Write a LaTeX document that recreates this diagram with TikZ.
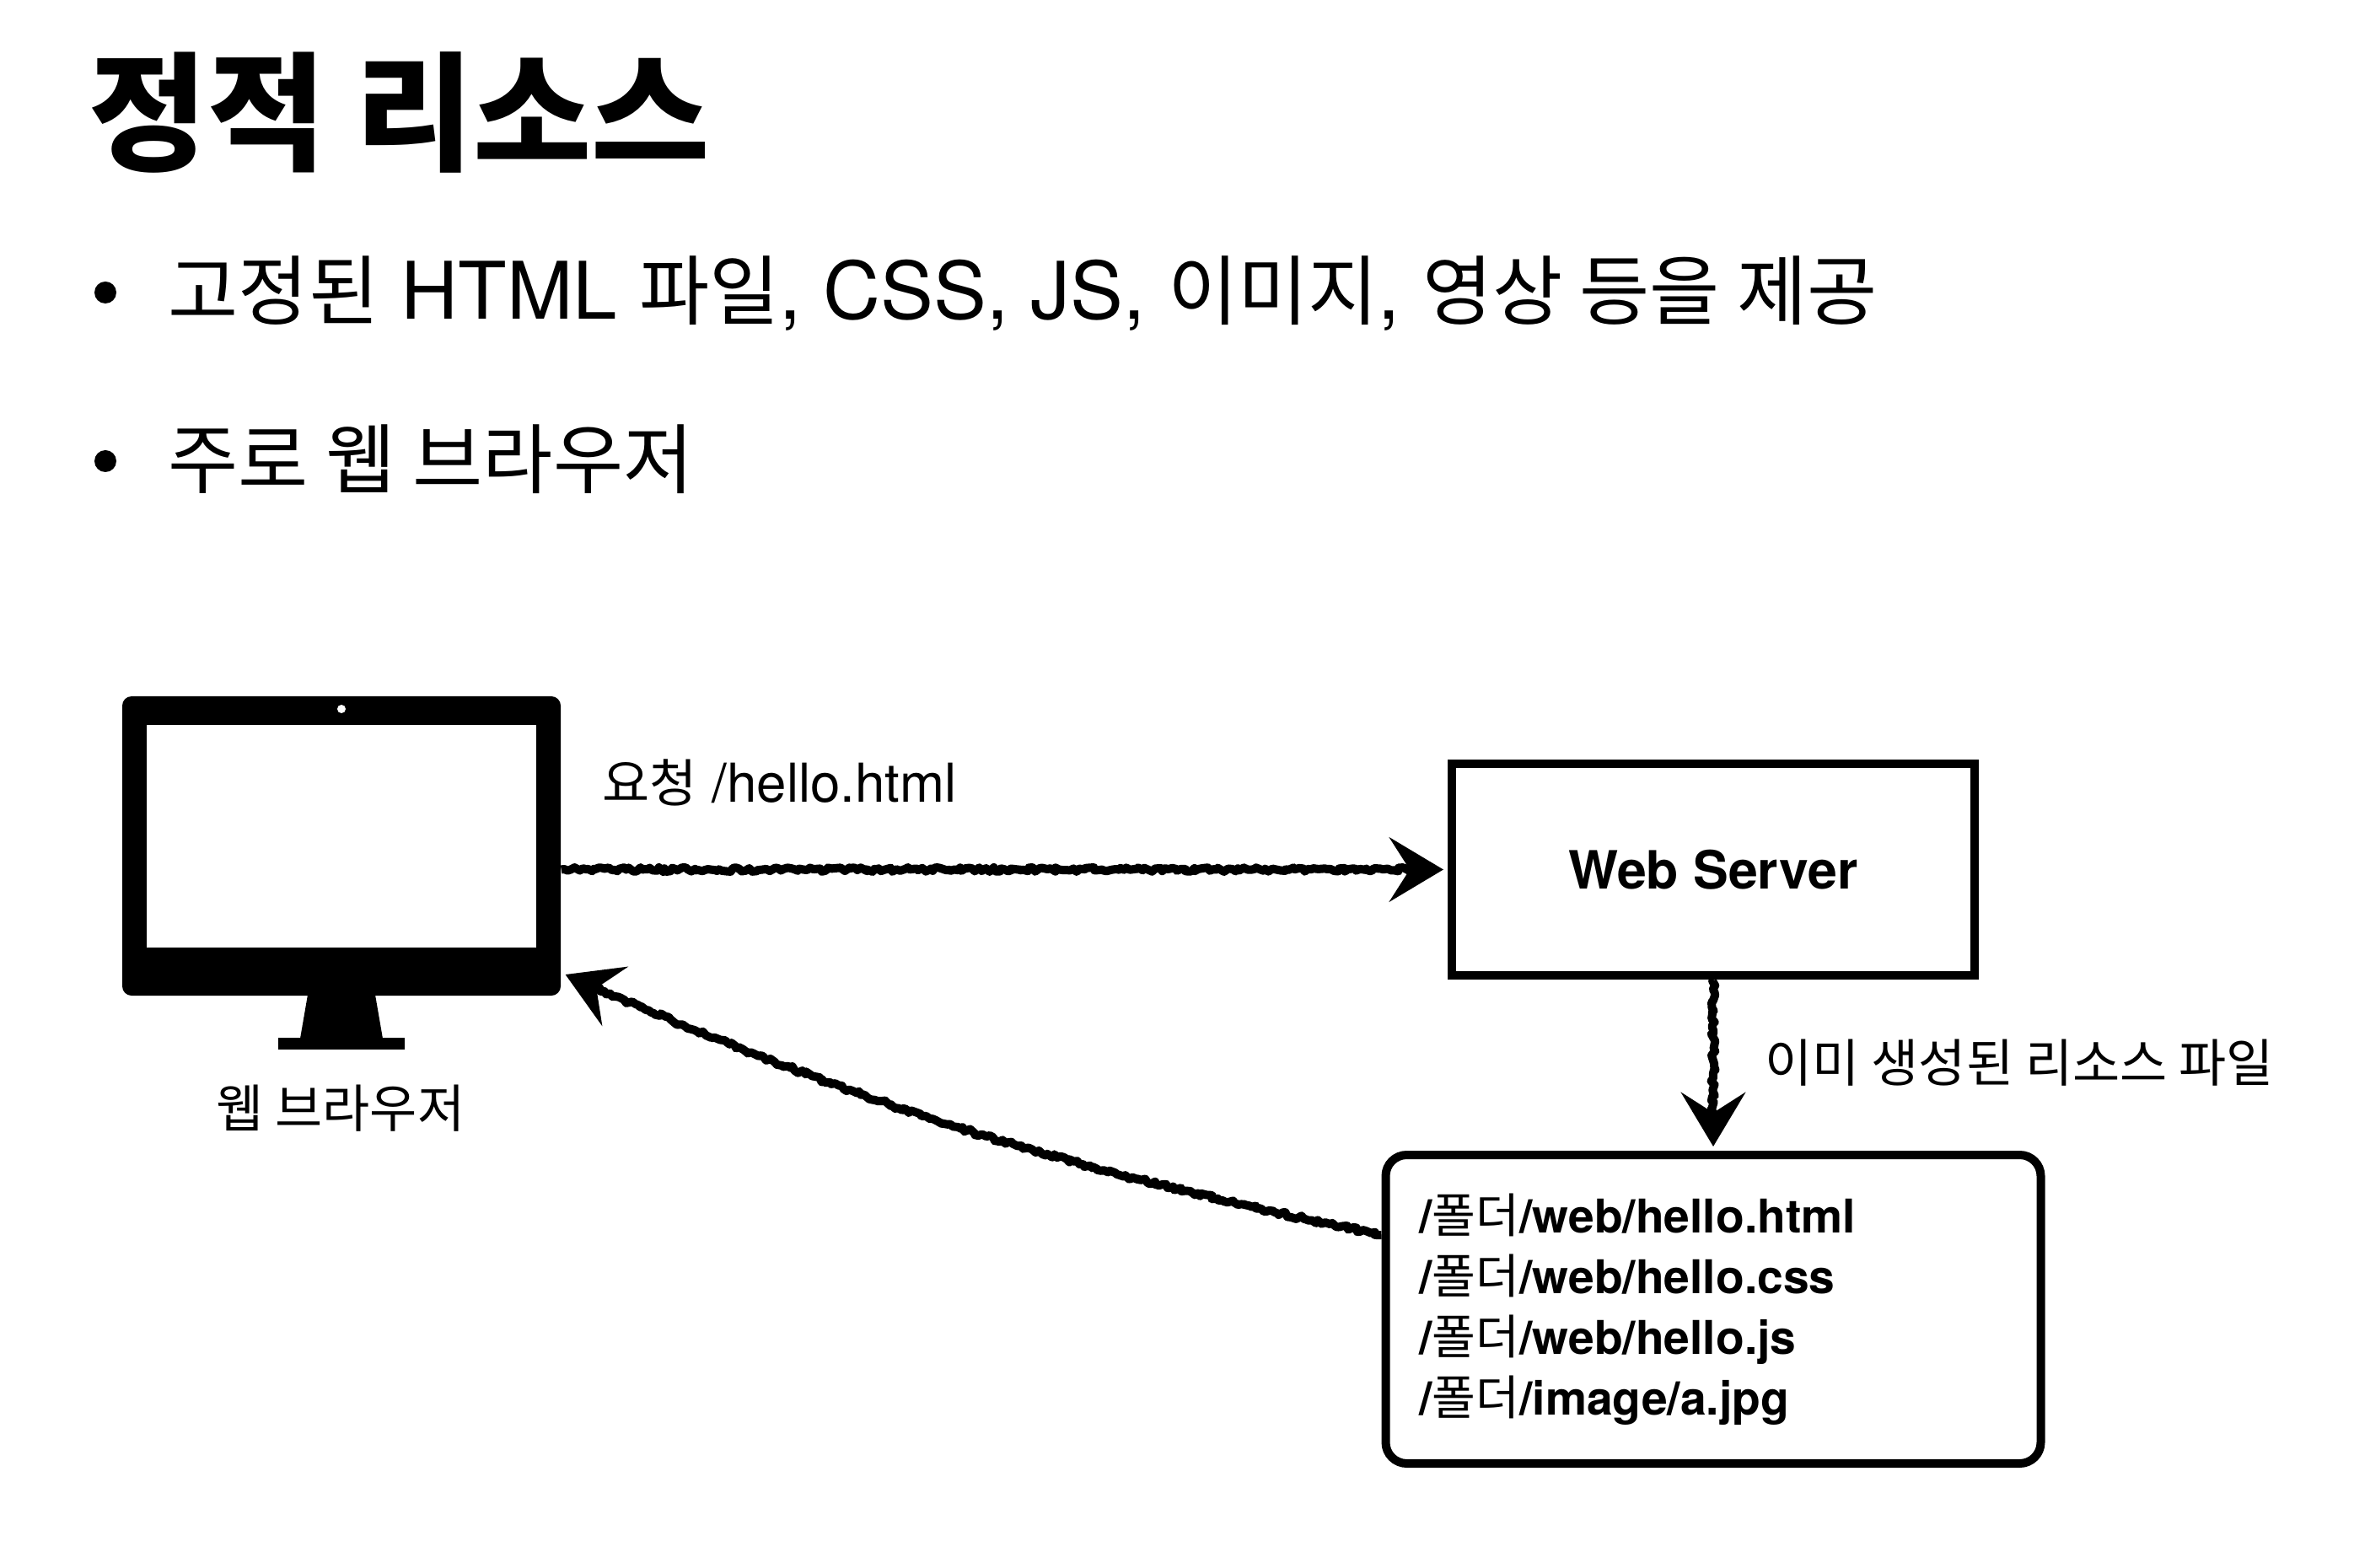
\documentclass[tikz,border=0pt]{standalone}
\usepackage{fontspec}
\setmainfont{TeX Gyre Heros}
\newfontfamily\kr[Scale=0.96]{Noto Sans CJK KR}
\newfontfamily\krfile[Scale=1.02]{Noto Sans CJK KR}
\newcommand{\folder}{{\krfile\mdseries 폴더}}
\usetikzlibrary{positioning, arrows.meta, decorations.pathmorphing}

\begin{document}
\begin{tikzpicture}[
  headline/.style={anchor=base west, inner sep=0pt, font=\fontsize{45.2}{54}\selectfont\bfseries},
  bulletdot/.style={circle, fill=black, inner sep=0pt, minimum size=0.26cm},
  item/.style={anchor=base west, inner sep=0pt, font=\fontsize{26.8}{32}\selectfont},
  label/.style={anchor=base west, inner sep=0pt, font=\fontsize{18.1}{22}\selectfont},
  box/.style={draw, line width=0.10cm, align=center, inner sep=0pt},
  sketch/.style={-{Stealth[length=0.64cm, width=0.76cm, inset=0.24cm]}, line width=0.10cm, line join=round, shorten >=0.05cm,
    decorate, decoration={random steps, segment length=0.035cm, amplitude=0.025cm, post length=0.4cm}}
]
\useasboundingbox (0,0) rectangle (27.92,-18.60);
\pgfmathsetseed{7}
\node[headline] (title) at (1.05,-1.91) {\kr 정적 리소스};
\node[bulletdot] (dota) at (1.25,-3.47) {};
\node[bulletdot] (dotb) at (1.25,-5.47) {};
\node[item] (itema) at (1.99,-3.79) {{\kr 고정된} HTML {\kr 파일}, CSS, JS, {\kr 이미지}, {\kr 영상 등을 제공}};
\node[item] (itemb) at (1.99,-5.79) {\kr 주로 웹 브라우저};
\node[fill=black, rounded corners=0.11cm, minimum width=5.20cm, minimum height=3.55cm, inner sep=0pt] (mon) at (4.05,-10.035) {};
\node[fill=white, minimum width=4.62cm, minimum height=2.64cm, inner sep=0pt] (screen) at (4.05,-9.92) {};
\node[circle, fill=white, minimum size=0.10cm, inner sep=0pt] (cam) at (4.05,-8.41) {};
\node[fill=black, minimum width=1.50cm, minimum height=0.14cm, inner sep=0pt] (base) at (4.05,-12.38) {};
\fill[black] (3.65,-11.80) -- (4.45,-11.80) -- (4.54,-12.32) -- (3.56,-12.32) -- cycle;
\node[label, anchor=base] (monlabel) at (4.04,-13.37) {\kr 웹 브라우저};
\node[box, minimum width=6.20cm, minimum height=2.51cm, font=\fontsize{17.8}{22}\selectfont\bfseries] (srv) at (20.32,-10.315) {Web Server};
\node[box, rounded corners=0.25cm, minimum width=7.77cm, minimum height=3.66cm, text width=6.97cm, inner xsep=0.40cm, align=left,
  font=\fontsize{15.7}{20.5}\selectfont\bfseries] (files) at (20.32,-15.53) {/\folder/web/hello.html\\/\folder/web/hello.css\\/\folder/web/hello.js\\/\folder/image/a.jpg};
\node[label] (reqlabel) at (7.14,-9.51) {{\kr 요청} /hello.html};
\node[label] (reslabel) at (20.93,-12.83) {\kr 이미 생성된 리소스 파일};
\draw[sketch] (mon.east |- srv.west) -- (srv.west);
\draw[sketch] (srv.south) -- (files.north);
\coordinate (monin) at (6.66,-11.54);
\draw[sketch] ([yshift=0.88cm]files.west) to[bend left=6] (monin);
\end{tikzpicture}
\end{document}
